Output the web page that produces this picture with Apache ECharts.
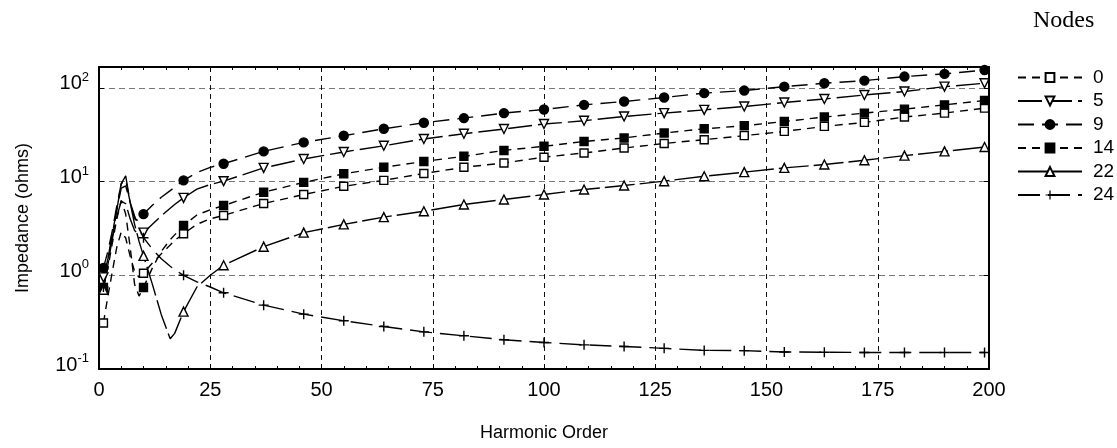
<!DOCTYPE html>
<html>
<head>
<meta charset="utf-8">
<script src="https://cdn.jsdelivr.net/npm/echarts@6/dist/echarts.min.js"></script>
<style>html,body{margin:0;padding:0;background:#fff}#c{width:1117px;height:448px}</style>
</head>
<body>
<div id="c"></div>
<script>
// Harmonic orders at which the curves are sampled
const H = [1,2,3,4,5,6,7,8,9,10,12,14,16,17,19,22,25,28,37,46,55,64,73,82,91,100,109,118,127,136,145,154,163,172,181,190,199];
// Harmonic orders that carry a marker
const MARK_H = [1,10,19,28,37,46,55,64,73,82,91,100,109,118,127,136,145,154,163,172,181,190,199];
const NODE_NAMES = ['0','5','9','14','22','24'];
const node0  = [0.31,0.6,1.1,2.0,2.9,2.5,1.6,1.1,0.95,1.05,1.35,1.7,2.1,2.35,2.78,3.5,4.0,4.35,5.84,7.27,8.9,10.3,12.2,14.2,15.8,18.2,20.2,22.8,25.5,28.0,30.9,34.3,38.8,42.8,48.8,53.8,60.8];
const node5  = [0.95,1.5,2.5,4.2,6.2,5.8,4.0,3.0,2.7,2.85,3.5,4.3,5.2,5.7,6.7,8.3,9.3,10.1,14.0,17.4,20.7,24.1,28.5,32.4,36.4,41.1,44.6,49.5,53.8,58.3,63.2,69.8,76.0,84.0,91.4,103,112];
const node9  = [1.2,1.8,3.0,5.5,9.5,10.5,6.0,4.0,3.8,4.5,5.6,6.8,8.0,8.7,10.3,12.5,14.2,15.5,21.0,26.2,30.8,36.6,42.4,47.6,53.8,58.8,65.9,71.5,78.9,87.8,93.6,103,112,119.6,132,141,155];
const node14 = [0.74,1.2,2.2,4.0,6.3,4.5,2.0,0.8,0.6,0.74,1.2,1.8,2.4,2.7,3.4,4.4,5.0,5.55,7.7,9.8,12.1,14.2,16.4,18.6,21.5,23.8,26.8,29.2,33.0,36.6,39.4,43.8,48.8,53.8,59.3,65.9,73.3];
const node22 = [0.7,1.3,2.5,5.0,9.5,11.5,6.0,3.5,2.3,1.61,0.8,0.38,0.21,0.24,0.41,0.75,1.0,1.28,2.02,2.85,3.49,4.18,4.83,5.69,6.44,7.27,8.22,9.07,10.1,11.4,12.6,14.0,15.2,16.9,18.9,21.0,23.4];
const node24 = [0.75,1.5,2.8,5.0,8.5,9.0,6.0,4.3,3.2,2.52,1.9,1.5,1.25,1.15,1.0,0.85,0.75,0.65,0.48,0.385,0.327,0.284,0.249,0.226,0.205,0.192,0.181,0.174,0.166,0.158,0.157,0.152,0.151,0.150,0.150,0.150,0.150];
const X_TICKS = [0,25,50,75,100,125,150,175,200];
const Y_TICKS = [0.1,1,10,100];

const VALUES = [node0,node5,node9,node14,node22,node24];
const PLUS = 'path://M4.3,0H5.7V4.3H10V5.7H5.7V10H4.3V5.7H0V4.3H4.3Z';
const STYLES = [
  {sym:'rect', fill:'#fff', rot:0, size:8, dash:[8,6]},
  {sym:'triangle', fill:'#fff', rot:180, size:9, dash:[24,6]},
  {sym:'circle', fill:'#000', rot:0, size:9, dash:[16,8]},
  {sym:'rect', fill:'#000', rot:0, size:8, dash:[8,6]},
  {sym:'triangle', fill:'#fff', rot:0, size:9, dash:[30,5]},
  {sym:PLUS, fill:'#000', rot:0, size:10, dash:[22,8]}
];

const series = NODE_NAMES.map((name, i) => {
  const st = STYLES[i];
  return {
    name: name,
    type: 'line',
    data: H.map((h, k) => MARK_H.indexOf(h) >= 0
      ? {value:[h, VALUES[i][k]]}
      : {value:[h, VALUES[i][k]], symbol:'none'}),
    symbol: st.sym,
    symbolSize: st.size,
    symbolRotate: st.rot,
    showAllSymbol: true,
    lineStyle: {color:'#000', width:1.4, type: st.dash},
    itemStyle: {color: st.fill, borderColor:'#000', borderWidth: (st.sym===PLUS?0:1.4)},
    emphasis: {disabled:true},
    animation: false,
    z: 3
  };
});

function yLabel(v) {
  const e = Math.round(Math.log10(v));
  if (Math.abs(Math.log10(v) - e) > 1e-6 || e < -1 || e > 2) return '';
  return '{b|10}{s|' + e + '}';
}

const FONT = 'Liberation Sans, Arial';
const chart = echarts.init(document.getElementById('c'), null, {renderer:'canvas'});
chart.setOption({
  backgroundColor:'#fff',
  animation:false,
  title: {text:'Nodes', left:1028, top:4, textStyle:{fontFamily:'Liberation Serif', fontSize:24, fontWeight:'normal', color:'#000'}},
  legend: {
    orient:'vertical', left:1012, top:63, itemWidth:64, itemHeight:11, itemGap:4.5,
    textStyle:{fontFamily:FONT, fontSize:19, color:'#000', lineHeight:19, padding:[0,0,0,6]},
    data: NODE_NAMES
  },
  grid: {left:99, right:128, top:67, bottom:79, containLabel:false},
  xAxis: [{
    type:'value', min:0, max:200, interval:25, position:'bottom',
    name:'Harmonic Order', nameLocation:'middle', nameGap:55,
    nameTextStyle:{fontFamily:FONT, fontSize:18, color:'#000'},
    axisLine:{show:true, onZero:false, lineStyle:{color:'#000', width:2}},
    axisTick:{show:true, inside:true, length:5, lineStyle:{color:'#000'}},
    minorTick:{show:true, splitNumber:5, length:3, lineStyle:{color:'#000'}},
    axisLabel:{fontFamily:FONT, fontSize:20, color:'#000', margin:11},
    splitLine:{show:true, lineStyle:{color:'#111', width:1, type:[5,4]}}
  },{
    type:'value', min:0, max:200, interval:25, position:'top',
    axisLine:{show:true, onZero:false, lineStyle:{color:'#000', width:2}},
    axisTick:{show:true, inside:true, length:5, lineStyle:{color:'#000'}},
    minorTick:{show:true, splitNumber:5, length:3, lineStyle:{color:'#000'}},
    axisLabel:{show:false}, splitLine:{show:false}
  }],
  yAxis: [{
    type:'log', logBase:10, min:0.1, max:167, interval:1, position:'left',
    name:'Impedance (ohms)', nameLocation:'middle', nameGap:67, nameRotate:90,
    nameTextStyle:{fontFamily:FONT, fontSize:18, color:'#000'},
    axisLine:{show:true, onZero:false, lineStyle:{color:'#000', width:2}},
    axisTick:{show:true, inside:true, length:5, lineStyle:{color:'#000'}},
    axisLabel:{
      formatter: yLabel, margin:10, padding:[0,0,8,0],
      rich:{
        b:{fontFamily:FONT, fontSize:20, color:'#000'},
        s:{fontFamily:FONT, fontSize:13, color:'#000', padding:[0,0,13,0]}
      }
    },
    splitLine:{show:true, lineStyle:{color:'#777', width:1.2, type:[6,4]}}
  },{
    type:'log', logBase:10, min:0.1, max:167, interval:1, position:'right',
    axisLine:{show:true, onZero:false, lineStyle:{color:'#000', width:2}},
    axisTick:{show:true, inside:true, length:5, lineStyle:{color:'#000'}},
    axisLabel:{show:false}, splitLine:{show:false}
  }],
  series: series
});
</script>
</body>
</html>
